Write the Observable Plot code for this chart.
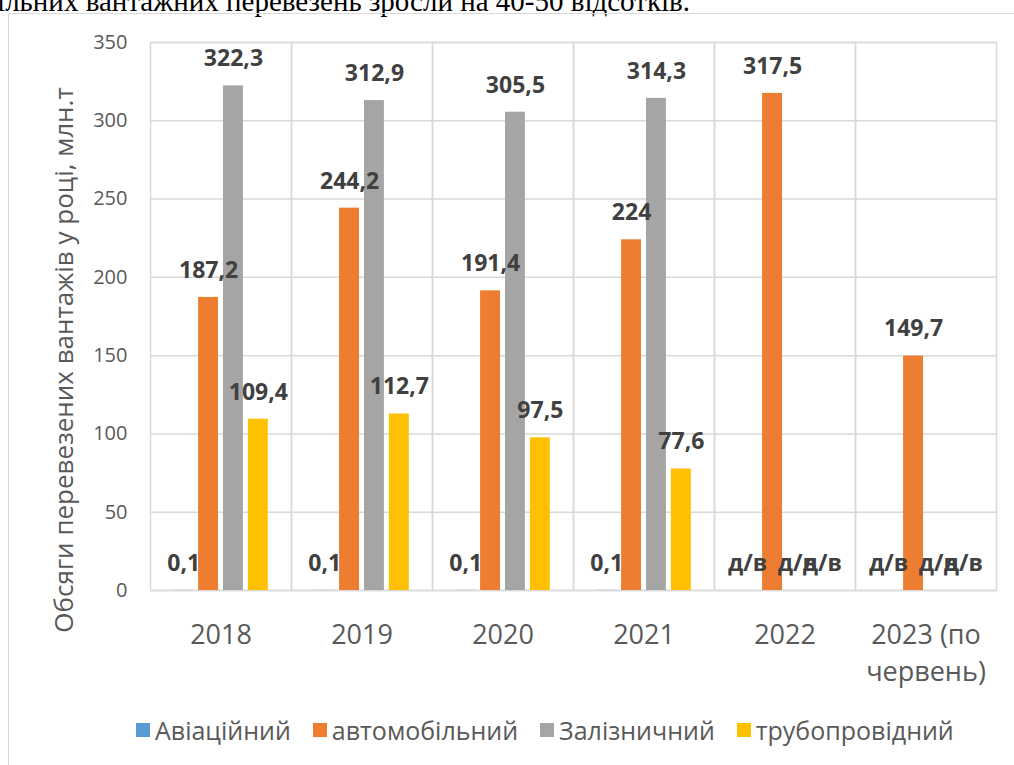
<!DOCTYPE html>
<html>
<head>
<meta charset="utf-8">
<script src="https://cdn.jsdelivr.net/npm/d3@7"></script>
<script src="https://cdn.jsdelivr.net/npm/@observablehq/plot@0.6"></script>
<style>
  html, body { margin: 0; padding: 0; background: #fff; }
  #wrap { position: relative; width: 1014px; height: 765px; overflow: hidden; font-family: "Open Sans", sans-serif; }
  #topline { position: absolute; right: 324px; top: -13px; font-family: "Liberation Serif", "Times New Roman", serif; font-size: 29px; line-height: 29px; white-space: nowrap; color: #000; }
  #box { position: absolute; left: 8px; top: 13px; width: 1100px; height: 800px; border: 1.5px solid #d9d9d9; box-sizing: border-box; }
  #chart { position: absolute; left: 0; top: 0; }
  #ytitle { position: absolute; left: 63px; top: 360px; transform: translate(-50%, -50%) rotate(-90deg); white-space: nowrap; font-size: 26px; color: #595959; }
  #legend { position: absolute; left: 136px; top: 713px; display: flex; align-items: center; gap: 22px; font-size: 25px; color: #595959; white-space: nowrap; }
  .item { display: flex; align-items: center; gap: 5px; }
  .sw { width: 14px; height: 14px; display: inline-block; }
</style>
</head>
<body>
<div id="wrap">
  <div id="topline">автомобільних вантажних перевезень зросли на 40-50 відсотків.</div>
  <div id="box"></div>
  <div id="chart"></div>
  <div id="ytitle"></div>
  <div id="legend"></div>
</div>
<script>
const categories = ["2018", "2019", "2020", "2021", "2022", "2023 (по\nчервень)"];
const series = ["Авіаційний", "автомобільний", "Залізничний", "трубопровідний"];
const colors = ["#5B9BD5", "#ED7D31", "#A5A5A5", "#FFC000"];
const aviation = [0.1, 0.1, 0.1, 0.1, null, null];
const automobile = [187.2, 244.2, 191.4, 224, 317.5, 149.7];
const railway = [322.3, 312.9, 305.5, 314.3, null, null];
const pipeline = [109.4, 112.7, 97.5, 77.6, null, null];
const yTicks = [0, 50, 100, 150, 200, 250, 300, 350];
const noData = "д/в";
const yTitle = "Обсяги перевезених вантажів у році, млн.т";

const seriesValues = [aviation, automobile, railway, pipeline];
const rows = [];
categories.forEach((cat, i) => {
  series.forEach((s, j) => {
    const v = seriesValues[j][i];
    rows.push({cat, series: s, value: v, label: v == null ? noData : String(v).replace(".", ",")});
  });
});

const chart = Plot.plot({
  width: 1014,
  height: 705,
  marginLeft: 148,
  marginRight: 16,
  marginTop: 42,
  marginBottom: 115,
  style: {fontFamily: "Open Sans, sans-serif", color: "#595959", background: "transparent"},
  fx: {domain: categories, padding: 0, label: null},
  x: {domain: series, paddingInner: 0.2, paddingOuter: 0.933, round: false, axis: null},
  y: {domain: [0, 350], label: null},
  color: {domain: series, range: colors},
  marks: [
    Plot.gridY(yTicks, {stroke: "#d9d9d9", strokeOpacity: 1, strokeWidth: 1.5}),
    Plot.frame({stroke: "#d9d9d9", strokeWidth: 1.5}),
    Plot.barY(rows.filter(d => d.value != null), {fx: "cat", x: "series", y: "value", fill: "series"}),
    Plot.text(rows, {fx: "cat", x: "series", y: d => d.value ?? 0, text: "label", dy: -27,
      fontWeight: "bold", fontSize: 23, fill: "#404040"}),
    Plot.axisY(yTicks, {tickSize: 0, tickPadding: 23, fontSize: 20, label: null}),
    Plot.axisFx({anchor: "bottom", tickSize: 0, tickPadding: 27, fontSize: 27, lineHeight: 1.37, label: null})
  ]
});
document.getElementById("chart").appendChild(chart);
document.getElementById("ytitle").textContent = yTitle;

const legend = document.getElementById("legend");
series.forEach((s, j) => {
  const item = document.createElement("div");
  item.className = "item";
  const sw = document.createElement("span");
  sw.className = "sw";
  sw.style.background = colors[j];
  const t = document.createElement("span");
  t.textContent = s;
  item.appendChild(sw);
  item.appendChild(t);
  legend.appendChild(item);
});
</script>
</body>
</html>
